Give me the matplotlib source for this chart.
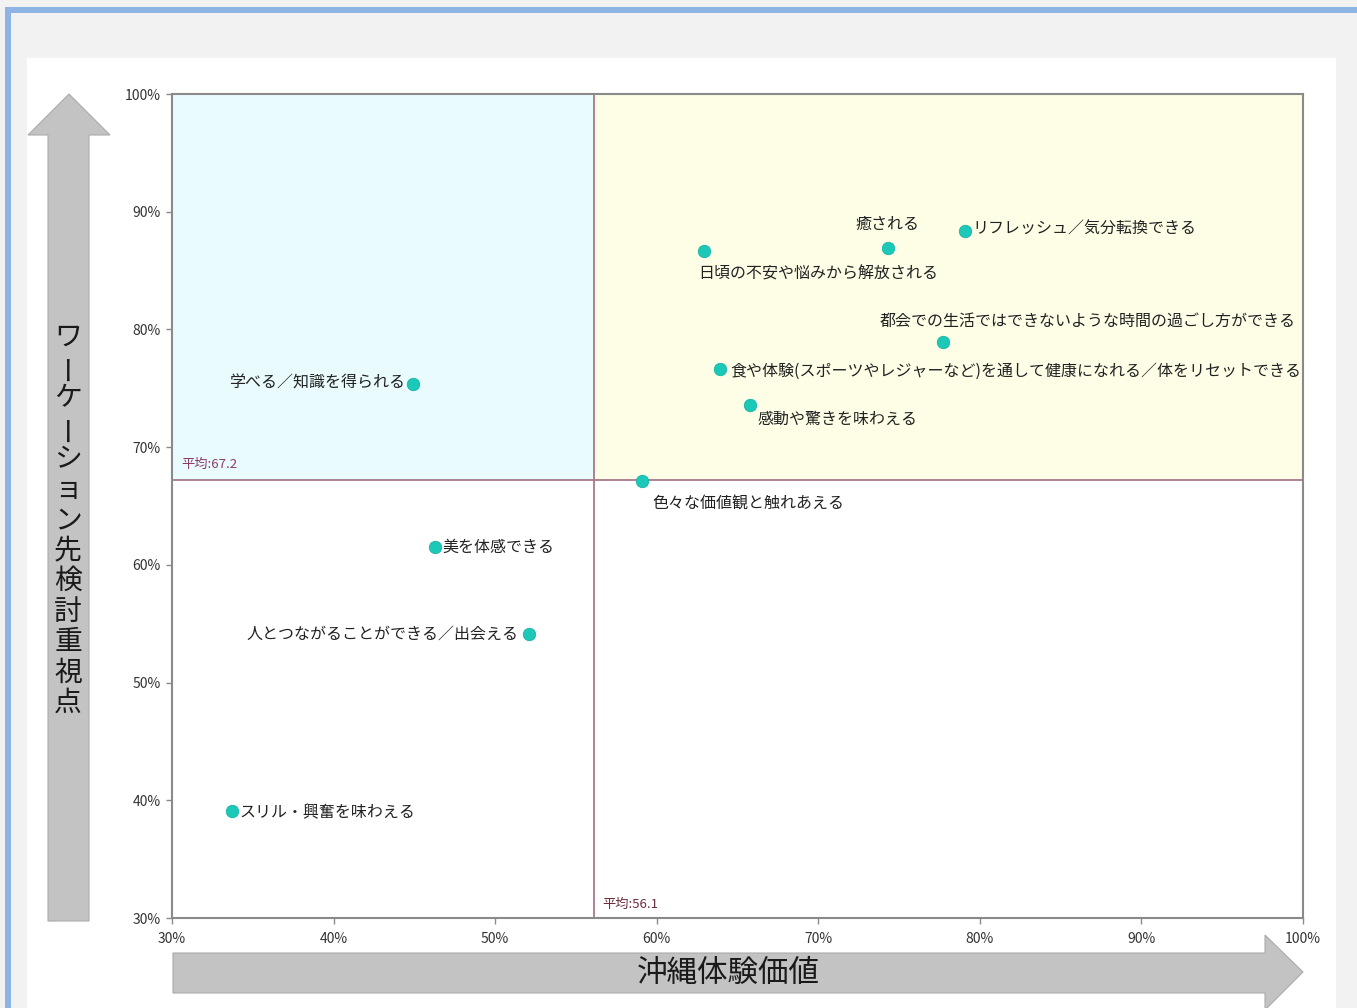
import matplotlib
matplotlib.use("Agg")
import matplotlib.pyplot as plt
from matplotlib.patches import Polygon, Rectangle

plt.rcParams['font.family'] = ['Noto Sans CJK JP', 'DejaVu Sans']

# ---- data ----
labels = [
    "学べる／知識を得られる",
    "美を体感できる",
    "人とつながることができる／出会える",
    "スリル・興奮を味わえる",
    "色々な価値観と触れあえる",
    "日頃の不安や悩みから解放される",
    "癒される",
    "リフレッシュ／気分転換できる",
    "都会での生活ではできないような時間の過ごし方ができる",
    "食や体験(スポーツやレジャーなど)を通して健康になれる／体をリセットできる",
    "感動や驚きを味わえる",
]
x_vals = [44.9, 46.3, 52.1, 33.7, 59.1, 62.9, 74.3, 79.1, 77.7, 63.9, 65.8]
y_vals = [75.4, 61.5, 54.1, 39.1, 67.1, 86.7, 86.9, 88.4, 78.9, 76.6, 73.6]
x_avg = 56.1
y_avg = 67.2
x_ticks = [30, 40, 50, 60, 70, 80, 90, 100]
y_ticks = [30, 40, 50, 60, 70, 80, 90, 100]
x_title = "沖縄体験価値"
y_title = "ワーケーション先検討重視点"

# label placement (offset in pixels, alignment)
label_style = [
    (-8, 0, 'right', 'center'),
    (7, 0, 'left', 'center'),
    (-11, 0, 'right', 'center'),
    (8, -2, 'left', 'center'),
    (10, -23, 'left', 'center'),
    (-5, -23, 'left', 'center'),
    (0, 24, 'center', 'center'),
    (7, 1, 'left', 'center'),
    (-63, 21, 'left', 'center'),
    (11, -2, 'left', 'center'),
    (7, -15, 'left', 'center'),
]

W, H = 1357, 1008
fig = plt.figure(figsize=(W / 100, H / 100), dpi=100)
fig.patch.set_facecolor('#f2f2f2')


def fx(px):
    return px / W


def fy(py):
    return 1 - py / H


def add_bg(p, z):
    p.set_zorder(z)
    fig.patches.append(p)


# blue frame
add_bg(Rectangle((fx(5), fy(13)), fx(W) - fx(5), fy(7) - fy(13),
                 transform=fig.transFigure, facecolor='#8db4e2', edgecolor='none'), -5)
add_bg(Rectangle((fx(5), fy(H)), fx(11) - fx(5), fy(7) - fy(H),
                 transform=fig.transFigure, facecolor='#8db4e2', edgecolor='none'), -5)
# white panel
add_bg(Rectangle((fx(27), fy(H)), fx(1336) - fx(27), fy(58) - fy(H),
                 transform=fig.transFigure, facecolor='white', edgecolor='none'), -4)

# arrows
up = [(69, 94), (110, 135), (89, 135), (89, 921), (48, 921), (48, 135), (28, 135)]
add_bg(Polygon([(fx(a), fy(b)) for a, b in up], closed=True, transform=fig.transFigure,
               facecolor='#c3c3c3', edgecolor='#ababab', lw=0.8), -3)
right = [(173, 953), (1265, 953), (1265, 935), (1303, 972), (1265, 1010), (1265, 993), (173, 993)]
add_bg(Polygon([(fx(a), fy(b)) for a, b in right], closed=True, transform=fig.transFigure,
               facecolor='#c3c3c3', edgecolor='#ababab', lw=0.8), -3)

# titles
fig.text(fx(728), fy(973), x_title, fontsize=22, ha='center', va='center', color='#1a1a1a')
y0, step = 337, 30.5
for i, ch in enumerate(y_title):
    rot = 90 if ch == 'ー' else 0
    fig.text(fx(68), fy(y0 + i * step), ch, fontsize=20, ha='center', va='center',
             rotation=rot, color='#1a1a1a')

# axes
ax = fig.add_axes([fx(172), fy(918), fx(1303) - fx(172), fy(94) - fy(918)])
ax.set_facecolor('white')
ax.set_xlim(30, 100)
ax.set_ylim(30, 100)

ax.add_patch(Rectangle((30, y_avg), x_avg - 30, 100 - y_avg, facecolor='#e9fbfd', edgecolor='none', zorder=0))
ax.add_patch(Rectangle((x_avg, y_avg), 100 - x_avg, 100 - y_avg, facecolor='#fefde6', edgecolor='none', zorder=0))

ax.axvline(x_avg, color='#a9788c', lw=1.3, zorder=1)
ax.axhline(y_avg, color='#a9788c', lw=1.3, zorder=1)

ax.annotate(f"平均:{y_avg}", (30, y_avg), xytext=(9, 16), textcoords='offset pixels',
            fontsize=9.5, color='#8b3a6a', ha='left', va='center')
ax.annotate(f"平均:{x_avg}", (x_avg, 30), xytext=(9, 14), textcoords='offset pixels',
            fontsize=9.5, color='#6e2c3c', ha='left', va='center')

ax.scatter(x_vals, y_vals, s=80, color='#1cc9b8', edgecolors='#15b5a5', linewidths=0.6, zorder=3)
for lab, xv, yv, (dx, dy, ha, va) in zip(labels, x_vals, y_vals, label_style):
    ax.annotate(lab, (xv, yv), xytext=(dx, dy), textcoords='offset pixels',
                fontsize=11.5, ha=ha, va=va, color='#222222', zorder=4)

ax.set_xticks(x_ticks)
ax.set_yticks(y_ticks)
ax.set_xticklabels([f"{t}%" for t in x_ticks])
ax.set_yticklabels([f"{t}%" for t in y_ticks])
ax.tick_params(axis='both', labelsize=10, colors='#8a8a8a', labelcolor='#333333',
               length=4, width=1, direction='out', pad=6)
ax.tick_params(axis='y', pad=4)
for sp in ax.spines.values():
    sp.set_color('#8a8a8a')
    sp.set_linewidth(1.5)

fig.savefig('out.png', dpi=100, facecolor=fig.get_facecolor())
